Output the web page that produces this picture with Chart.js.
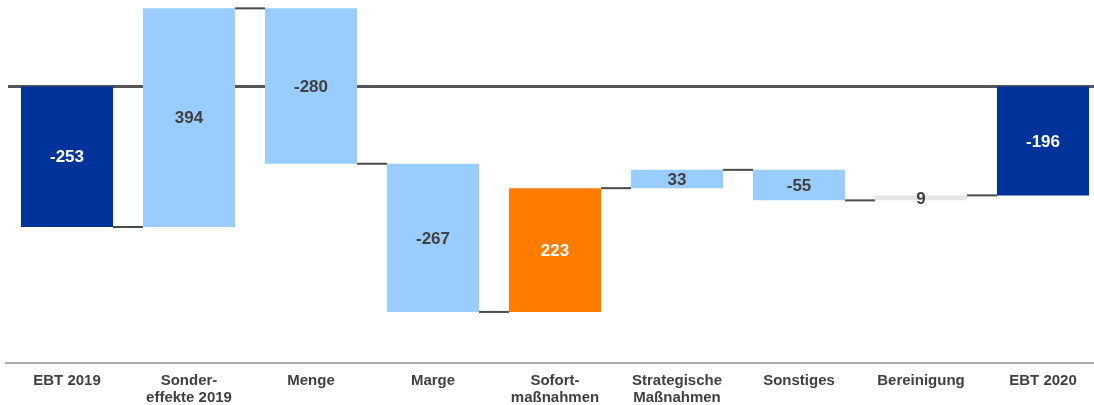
<!DOCTYPE html>
<html>
<head>
<meta charset="utf-8">
<title>EBT Überleitung 2019 – 2020</title>
<script src="https://cdn.jsdelivr.net/npm/chart.js@4.4.1/dist/chart.umd.min.js"></script>
<style>
    html, body { margin: 0; padding: 0; background: #fff; overflow: hidden; }
    #wrap { position: relative; width: 1104px; height: 405px; }
</style>
</head>
<body>
<div id="wrap"><canvas id="ebt-bridge"></canvas></div>
<script>
    "use strict";

    // Überleitung EBT 2019 -> EBT 2020 (Mio. EUR)
    var categories = [
        "EBT 2019",
        ["Sonder-", "effekte 2019"],
        "Menge",
        "Marge",
        ["Sofort-", "maßnahmen"],
        ["Strategische", "Maßnahmen"],
        "Sonstiges",
        "Bereinigung",
        "EBT 2020"
    ];
    var changes = [-253, 394, -280, -267, 223, 33, -55, 9, -196];
    var kinds = ["total", "effect", "effect", "effect", "measure", "effect", "effect", "adjust", "total"];

    var KIND_COLOR = {
        total: "#003399",
        effect: "#99ccff",
        measure: "#ff7c00",
        adjust: "#e6e6e6"
    };
    var KIND_TEXT = {
        total: "#ffffff",
        effect: "#404040",
        measure: "#ffffff",
        adjust: "#404040"
    };
    var LINE_COLOR = "#4a4a4a";
    var FONT = "'Liberation Sans', Arial, sans-serif";

    // floating [from, to] ranges; totals start at zero
    var ranges = [];
    var levels = [];
    var running = 0;
    for (var i = 0; i < changes.length; i++) {
        if (kinds[i] === "total") {
            ranges.push([0, changes[i]]);
            running = changes[i];
        } else {
            ranges.push([running, running + changes[i]]);
            running += changes[i];
        }
        levels.push(running);
    }

    var zeroLine = {
        id: "zeroLine",
        beforeDatasetsDraw: function(chart) {
            var ctx = chart.ctx;
            var y = chart.scales.y.getPixelForValue(0);
            ctx.save();
            ctx.strokeStyle = "#555555";
            ctx.lineWidth = 3;
            ctx.beginPath();
            ctx.moveTo(chart.chartArea.left + 2, y);
            ctx.lineTo(chart.chartArea.right, y);
            ctx.stroke();
            ctx.restore();
        }
    };

    var connectors = {
        id: "connectors",
        afterDatasetsDraw: function(chart) {
            var ctx = chart.ctx;
            var bars = chart.getDatasetMeta(0).data;
            ctx.save();
            ctx.strokeStyle = LINE_COLOR;
            ctx.lineWidth = 2;
            for (var i = 0; i < bars.length - 1; i++) {
                var y = chart.scales.y.getPixelForValue(levels[i]);
                ctx.beginPath();
                ctx.moveTo(bars[i].x + bars[i].width / 2, y);
                ctx.lineTo(bars[i + 1].x - bars[i + 1].width / 2, y);
                ctx.stroke();
            }
            ctx.restore();
        }
    };

    var valueLabels = {
        id: "valueLabels",
        afterDatasetsDraw: function(chart) {
            var ctx = chart.ctx;
            var bars = chart.getDatasetMeta(0).data;
            ctx.save();
            ctx.font = "bold 17px " + FONT;
            ctx.textAlign = "center";
            ctx.textBaseline = "middle";
            for (var i = 0; i < bars.length; i++) {
                ctx.fillStyle = KIND_TEXT[kinds[i]];
                ctx.fillText(String(changes[i]), bars[i].x, (bars[i].y + bars[i].base) / 2 + 1);
            }
            ctx.restore();
        }
    };

    new Chart(document.getElementById("ebt-bridge"), {
        type: "bar",
        data: {
            labels: categories,
            datasets: [{
                data: ranges,
                backgroundColor: kinds.map(function(k) { return KIND_COLOR[k]; }),
                borderWidth: 0,
                borderSkipped: false,
                categoryPercentage: 1,
                barPercentage: 0.755
            }]
        },
        options: {
            responsive: true,
            maintainAspectRatio: false,
            animation: false,
            layout: { padding: { left: 6, right: 0, top: 0, bottom: 0 } },
            plugins: {
                legend: { display: false },
                tooltip: { enabled: false }
            },
            scales: {
                x: {
                    grid: { display: false, drawTicks: false },
                    border: { display: true, color: "#aaaaaa", width: 2 },
                    ticks: {
                        color: "#404040",
                        padding: 9,
                        maxRotation: 0,
                        autoSkip: false,
                        font: { family: FONT, size: 15, weight: "bold", lineHeight: 1.15 }
                    },
                    afterFit: function(axis) { axis.height = 42; }
                },
                y: {
                    display: false,
                    min: -498,
                    max: 156
                }
            }
        },
        plugins: [zeroLine, connectors, valueLabels]
    });
</script>
</body>
</html>
